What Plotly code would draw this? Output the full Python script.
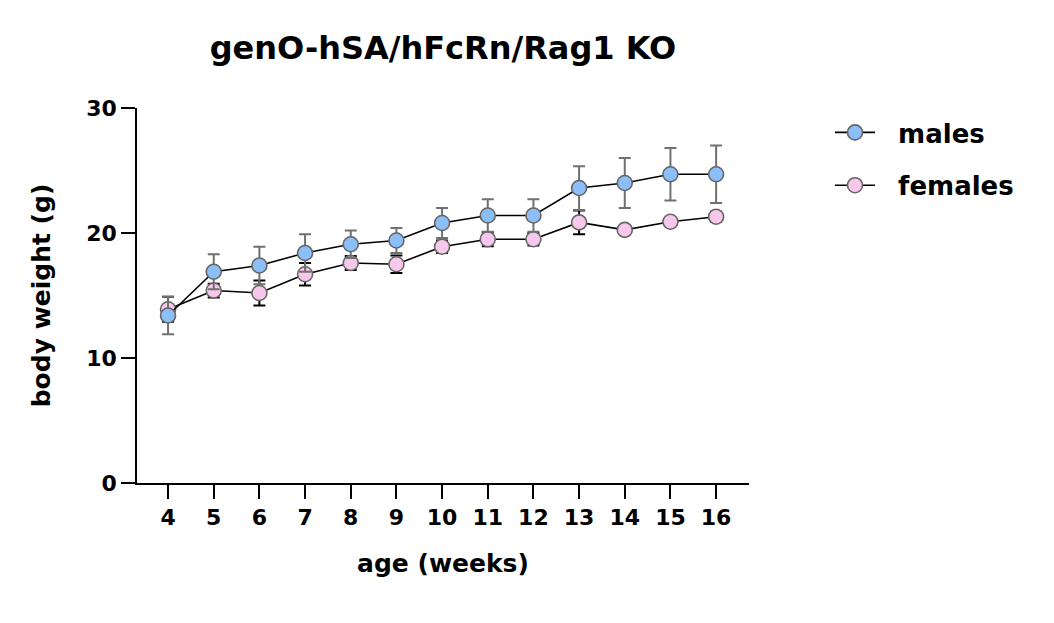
import plotly.graph_objects as go

weeks = [4, 5, 6, 7, 8, 9, 10, 11, 12, 13, 14, 15, 16]
males_mean = [13.4, 16.9, 17.4, 18.4, 19.1, 19.4, 20.8, 21.4, 21.4, 23.6, 24.0, 24.7, 24.7]
males_sd = [1.5, 1.4, 1.5, 1.5, 1.1, 1.0, 1.2, 1.3, 1.3, 1.75, 2.0, 2.1, 2.3]
females_mean = [13.9, 15.4, 15.2, 16.7, 17.6, 17.5, 18.9, 19.5, 19.5, 20.85, 20.25, 20.9, 21.3]
females_sd = [1.0, 0.55, 1.0, 0.9, 0.55, 0.7, 0.5, 0.55, 0.5, 0.95, 0.3, 0.3, 0.4]

FONT = "DejaVu Sans"
W, H = 1046, 615  # page has an 8px body margin
NB = "\u00a0\u00a0"
fig = go.Figure()

fig.add_trace(go.Scatter(
    x=weeks, y=females_mean, name=f"<b>{NB}females</b>", mode="lines+markers",
    legendgroup="f", legendrank=2,
    line=dict(color="black", width=1.6),
    marker=dict(size=15, color="#F8C8EC", line=dict(color="#666666", width=1.6)),
    error_y=dict(type="data", array=females_sd, color="black", thickness=2, width=6),
))
fig.add_trace(go.Scatter(
    x=weeks, y=males_mean, name=f"<b>{NB}males</b>", mode="lines+markers",
    legendgroup="m", legendrank=1,
    line=dict(color="black", width=1.6),
    marker=dict(size=15, color="#8CBEF8", line=dict(color="#666666", width=1.6)),
    error_y=dict(type="data", array=males_sd, color="#707070", thickness=2, width=6),
))

fig.update_layout(
    width=W, height=H,
    margin=dict(l=129, r=305, t=100, b=140),
    paper_bgcolor="white", plot_bgcolor="white",
    font=dict(family=FONT, color="black"),
    title=dict(text="<b>genO-hSA/hFcRn/Rag1 KO</b>", x=0.5, xref="paper",
               y=1 - 40 / H, yref="container", xanchor="center", yanchor="middle",
               font=dict(size=32, family=FONT, color="black")),
    showlegend=True,
    legend=dict(xref="container", yref="container", x=822 / W, y=1 - 101 / H,
                xanchor="left", yanchor="top", traceorder="grouped", tracegroupgap=16,
                itemwidth=40,
                font=dict(size=26, family=FONT, color="black"),
                bgcolor="rgba(0,0,0,0)"),
)

fig.update_xaxes(
    range=[3.32, 16.72], tickmode="array", tickvals=weeks,
    ticktext=[f"<b>{w}</b>" for w in weeks],
    showline=True, linecolor="black", linewidth=1.6,
    ticks="outside", ticklen=14, tickwidth=1.6, tickcolor="black",
    showgrid=False, zeroline=False,
    tickfont=dict(size=22, family=FONT, color="black"),
    title=dict(text="<b>age (weeks)</b>", font=dict(size=25, family=FONT, color="black"), standoff=25),
)
fig.update_yaxes(
    range=[0, 30], tickmode="array", tickvals=[0, 10, 20, 30],
    ticktext=["<b>0</b>", "<b>10</b>", "<b>20</b>", "<b>30</b>"],
    showline=True, linecolor="black", linewidth=1.6,
    ticks="outside", ticklen=14, tickwidth=1.6, tickcolor="black",
    showgrid=False, zeroline=False,
    tickfont=dict(size=22, family=FONT, color="black"),
    title=dict(text="<b>body weight (g)</b>", font=dict(size=25, family=FONT, color="black"), standoff=28),
)

fig.write_html("out.html")
